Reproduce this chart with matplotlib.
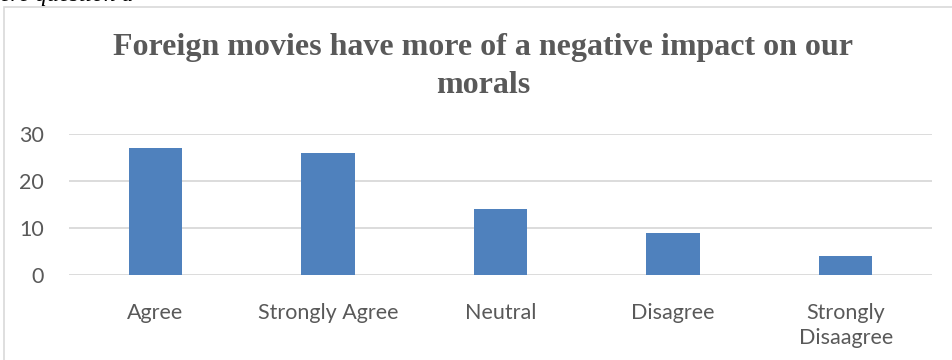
import matplotlib
matplotlib.use("Agg")
import matplotlib.pyplot as plt
from matplotlib.patches import Rectangle

categories = ["Agree", "Strongly Agree", "Neutral", "Disagree", "Strongly\nDisaagree"]
values = [27, 26, 14, 9, 4]
yticks = [0, 10, 20, 30]
title = "Foreign movies have more of a negative impact on our\nmorals"

fig = plt.figure(figsize=(9.52, 3.6), dpi=100)
fig.patch.set_facecolor("white")

# chart border (partially visible)
fig.patches.append(Rectangle((4/952, -0.1), 1.2, (360-7)/360 + 0.1, transform=fig.transFigure,
                             fill=False, edgecolor="#d9d9d9", linewidth=1.2))

# clipped caption text at top
fig.text(0.0, 1 - 1/360, "ere question a", fontsize=17, family="Liberation Serif",
         style="italic", color="black", ha="left", va="baseline")

ax = fig.add_axes([69/952, (360-275)/360, (932-69)/952, (275-134)/360])
x = range(len(categories))
ax.bar(x, values, width=0.31, color="#4f81bd", zorder=3)
ax.set_xlim(-0.5, len(categories) - 0.5)
ax.set_ylim(0, 30)
ax.set_yticks(yticks)
ax.set_xticks(list(x))
ax.set_xticklabels(categories, linespacing=1.35)
ax.grid(axis="y", color="#d9d9d9", linewidth=1.3, zorder=0)
for s in ax.spines.values():
    s.set_visible(False)
ax.tick_params(length=0, labelsize=15.5, labelcolor="#595959")
ax.tick_params(axis="x", pad=20)
ax.tick_params(axis="y", pad=18)
for lab in ax.get_xticklabels() + ax.get_yticklabels():
    lab.set_family("Lato")
ax.set_facecolor("white")

fig.text(483/952, 1 - 33/360, title, fontsize=23, family="Liberation Serif",
         fontweight="bold", color="#595959", ha="center", va="top", linespacing=1.4)

fig.savefig("out.png", dpi=100)
